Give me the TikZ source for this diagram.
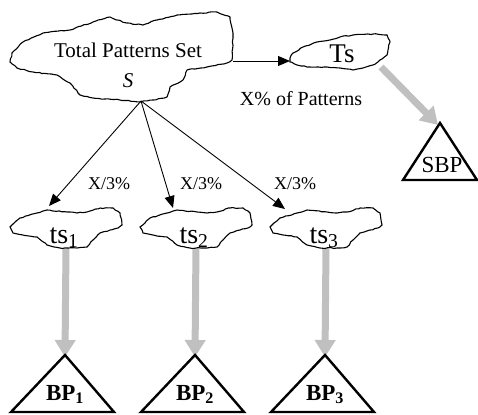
\documentclass[tikz,border=0pt]{standalone}
\usepackage{fontspec}
\setmainfont{Liberation Serif}
\usetikzlibrary{arrows.meta,decorations.pathmorphing}
\definecolor{lg}{RGB}{192,192,192}
\begin{document}
\begin{tikzpicture}[x=1pt,y=-1pt,
  cloudline/.style={draw=black,line width=1.1pt,fill=white,decorate,
    decoration={random steps,segment length=3pt,amplitude=0.5pt}},
  tri/.style={draw=black,line width=2.4pt,line join=miter,fill=white},
  blackarrow/.style={draw=black,line width=0.9pt,-{Triangle[length=12pt,width=10pt]}},
  grayarrow/.style={draw=lg,line width=7pt,-{Triangle[length=17pt,width=20pt]}},
  lbl/.style={inner sep=0pt,anchor=base},
]
\pgfmathsetseed{7}
\useasboundingbox (0,0) rectangle (478,414);

% ---- connector end points
\coordinate (Sbot) at (141,101);
\coordinate (Sright) at (233,61);
\coordinate (Tsleft) at (290,61);
\coordinate (Tsbr) at (381,67);
\coordinate (ts1top) at (49,206);
\coordinate (ts2top) at (173,208);
\coordinate (ts3top) at (285,209);
\coordinate (ts1bot) at (66,246);
\coordinate (ts2bot) at (196,246);
\coordinate (ts3bot) at (326,246);
\coordinate (bp1apex) at (65,355);
\coordinate (bp2apex) at (195,355);
\coordinate (bp3apex) at (325,355);
\coordinate (sbpapex) at (440,123);

\draw[grayarrow] (ts1bot) -- ([yshift=-2pt]bp1apex);
\draw[grayarrow] (ts2bot) -- ([yshift=-2pt]bp2apex);
\draw[grayarrow] (ts3bot) -- ([yshift=-2pt]bp3apex);
\draw[grayarrow] (Tsbr) -- ([shift={(-2pt,-2pt)}]sbpapex);

% ---- big cloud
\path[cloudline] (12,53) -- (23,42) -- (43,33) -- (70,30) -- (93,22) -- (110,17) -- (117,20) -- (127,23) -- (143,25)
 -- (157,20) -- (177,15) -- (200,13) -- (217,12) -- (230,17) -- (233,33) -- (232,60) -- (227,63)
 -- (207,67) -- (187,70) -- (183,80) -- (170,87) -- (167,97) -- (153,100) -- (140,102) -- (120,100)
 -- (93,98) -- (80,95) -- (70,83) -- (57,75) -- (33,72) -- (17,68) -- (10,62) -- cycle;
\node[lbl,font=\fontsize{21}{21}\selectfont] (S) at (128,58) {Total Patterns Set};
\node[lbl,font=\fontsize{21}{21}\selectfont\itshape] (Slet) at (128,88) {S};

% ---- Ts cloud
\path[cloudline] (290,58) -- (293,53) -- (303,47) -- (317,42) -- (330,40) -- (340,37) -- (353,35) -- (373,34)
 -- (387,35) -- (390,42) -- (388,50) -- (387,55) -- (380,60) -- (373,65) -- (363,68) -- (353,70)
 -- (340,68) -- (327,67) -- (310,67) -- (297,65) -- (290,62) -- cycle;
\node[lbl,font=\fontsize{27}{27}\selectfont] (Ts) at (342,63) {Ts};

% ---- small clouds
\foreach \cx in {68,198,328}{
  \path[cloudline,shift={(\cx,233)}] (-58,-6) -- (-48,-15) -- (-31,-20) -- (-21,-23) -- (-1,-21) -- (9,-20) -- (19,-21) -- (32,-25)
   -- (45,-25) -- (52,-20) -- (54,-8) -- (50,-5) -- (42,-3) -- (32,0) -- (25,7) -- (19,14) -- (9,15)
   -- (-8,15) -- (-21,12) -- (-31,4) -- (-45,2) -- (-55,0) -- cycle;
}
\node[lbl,font=\fontsize{28}{28}\selectfont] (ts1) at (64,243) {ts\textsubscript{1}};
\node[lbl,font=\fontsize{28}{28}\selectfont] (ts2) at (194,243) {ts\textsubscript{2}};
\node[lbl,font=\fontsize{28}{28}\selectfont] (ts3) at (324,243) {ts\textsubscript{3}};

% ---- black arrows
\draw[blackarrow] (Sright) -- (Tsleft);
\draw[blackarrow] (Sbot) -- (ts1top);
\draw[blackarrow] (Sbot) -- (ts2top);
\draw[blackarrow] (Sbot) -- (ts3top);

% ---- labels
\node[lbl,font=\fontsize{20}{20}\selectfont] (xp) at (301,106) {X\% of Patterns};
\node[lbl,font=\fontsize{18}{18}\selectfont] (l1) at (109,189) {X/3\%};
\node[lbl,font=\fontsize{18}{18}\selectfont] (l2) at (201,189) {X/3\%};
\node[lbl,font=\fontsize{18}{18}\selectfont] (l3) at (295,189) {X/3\%};

% ---- triangles
\draw[tri] (bp1apex) -- (11,412) -- (114,412) -- cycle;
\draw[tri] (bp2apex) -- (141,412) -- (244,412) -- cycle;
\draw[tri] (bp3apex) -- (271,412) -- (374,412) -- cycle;
\draw[tri] (sbpapex) -- (403,180) -- (477,180) -- cycle;
\node[lbl,font=\fontsize{23}{23}\selectfont\bfseries] (BP1) at (65,400) {BP\textsubscript{1}};
\node[lbl,font=\fontsize{23}{23}\selectfont\bfseries] (BP2) at (195,400) {BP\textsubscript{2}};
\node[lbl,font=\fontsize{23}{23}\selectfont\bfseries] (BP3) at (325,400) {BP\textsubscript{3}};
\node[lbl,font=\fontsize{23}{23}\selectfont] (SBP) at (442,172) {SBP};
\end{tikzpicture}
\end{document}
